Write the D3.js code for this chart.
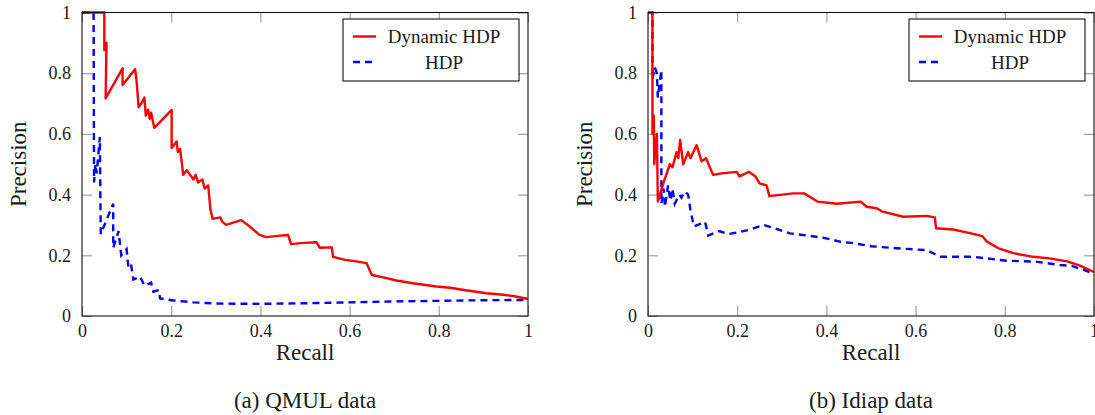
<!DOCTYPE html>
<html>
<head>
<meta charset="utf-8">
<script src="https://cdn.jsdelivr.net/npm/d3@7"></script>
<style>
  body { margin: 0; background: #fff; }
</style>
</head>
<body>
<svg id="chart" width="1095" height="415"></svg>
<script>
// axis ticks
const tickValues = [0, 0.2, 0.4, 0.6, 0.8, 1];
const tickLabels = ["0", "0.2", "0.4", "0.6", "0.8", "1"];
const seriesNames = ["Dynamic HDP", "HDP"];
const panelCaptions = ["(a) QMUL data", "(b) Idiap data"];
const serifFont = '"Liberation Serif"';

// (a) QMUL - Dynamic HDP
const qmulDynRecall = [0.015, 0.05, 0.05, 0.055, 0.053, 0.091, 0.091, 0.119, 0.122, 0.127, 0.135, 0.14, 0.143, 0.148, 0.152, 0.155, 0.162,
  0.201, 0.201, 0.212, 0.215, 0.22, 0.227, 0.235, 0.24, 0.25, 0.255, 0.26, 0.27, 0.275, 0.283, 0.288, 0.293, 0.31, 0.315, 0.323,
  0.357, 0.376, 0.398, 0.413, 0.445, 0.462, 0.469, 0.49, 0.526, 0.533, 0.56, 0.563, 0.59, 0.615, 0.638, 0.65, 0.683, 0.705,
  0.742, 0.795, 0.825, 0.86, 0.907, 0.945, 0.97, 1.0];
const qmulDynPrecision = [1, 1, 0.876, 0.9, 0.717, 0.816, 0.761, 0.813, 0.78, 0.688, 0.705, 0.72, 0.66, 0.68, 0.65, 0.67, 0.62,
  0.679, 0.553, 0.575, 0.54, 0.55, 0.465, 0.48, 0.47, 0.45, 0.465, 0.44, 0.45, 0.42, 0.43, 0.35, 0.32, 0.325, 0.31, 0.30,
  0.316, 0.295, 0.267, 0.26, 0.265, 0.267, 0.237, 0.24, 0.243, 0.225, 0.226, 0.195, 0.185, 0.18, 0.174, 0.135, 0.125, 0.117,
  0.108, 0.097, 0.093, 0.085, 0.075, 0.07, 0.065, 0.056];

// (a) QMUL - HDP
const qmulHdpRecall = [0, 0.026, 0.027, 0.03, 0.033, 0.04, 0.042, 0.07, 0.07, 0.078, 0.082, 0.088, 0.1, 0.104, 0.11, 0.115, 0.13,
  0.14, 0.155, 0.16, 0.172, 0.175, 0.2, 0.25, 0.3, 0.4, 0.5, 0.6, 0.7, 0.8, 0.9, 1.0];
const qmulHdpPrecision = [1, 1, 0.44, 0.5, 0.47, 0.59, 0.27, 0.37, 0.225, 0.26, 0.28, 0.2, 0.22, 0.16, 0.17, 0.12, 0.13,
  0.1, 0.11, 0.08, 0.085, 0.058, 0.052, 0.045, 0.041, 0.04, 0.042, 0.045, 0.048, 0.05, 0.052, 0.053];

// (b) Idiap - Dynamic HDP
const idiapDynRecall = [0.01, 0.01, 0.013, 0.014, 0.02, 0.022, 0.035, 0.049, 0.055, 0.064, 0.068, 0.072, 0.079, 0.09, 0.095, 0.109,
  0.12, 0.13, 0.146, 0.165, 0.199, 0.205, 0.226, 0.241, 0.25, 0.266, 0.272, 0.325, 0.35, 0.38, 0.424, 0.477, 0.49, 0.513,
  0.524, 0.572, 0.625, 0.643, 0.646, 0.684, 0.722, 0.75, 0.76, 0.786, 0.819, 0.864, 0.9, 0.94, 0.97, 1.0];
const idiapDynPrecision = [1, 0.6, 0.66, 0.5, 0.6, 0.377, 0.44, 0.5, 0.49, 0.54, 0.52, 0.58, 0.5, 0.54, 0.52, 0.563,
  0.51, 0.52, 0.465, 0.47, 0.475, 0.46, 0.475, 0.46, 0.437, 0.43, 0.395, 0.404, 0.404, 0.377, 0.37, 0.377, 0.36, 0.355,
  0.345, 0.327, 0.33, 0.325, 0.289, 0.285, 0.273, 0.263, 0.245, 0.223, 0.207, 0.195, 0.19, 0.18, 0.165, 0.145];

// (b) Idiap - HDP
const idiapHdpRecall = [0, 0.01, 0.01, 0.015, 0.02, 0.022, 0.03, 0.03, 0.035, 0.038, 0.045, 0.05, 0.055, 0.06, 0.07, 0.075, 0.082,
  0.09, 0.095, 0.103, 0.12, 0.128, 0.135, 0.16, 0.18, 0.2, 0.23, 0.26, 0.296, 0.318, 0.363, 0.4, 0.43, 0.46, 0.5, 0.558,
  0.625, 0.655, 0.73, 0.804, 0.87, 0.924, 0.95, 1.0];
const idiapHdpPrecision = [1, 1, 0.78, 0.82, 0.8, 0.72, 0.81, 0.37, 0.42, 0.36, 0.43, 0.38, 0.42, 0.37, 0.4, 0.39, 0.41,
  0.4, 0.35, 0.295, 0.305, 0.31, 0.265, 0.28, 0.27, 0.275, 0.285, 0.3, 0.283, 0.272, 0.264, 0.256, 0.245, 0.24, 0.23, 0.223,
  0.217, 0.195, 0.195, 0.182, 0.179, 0.168, 0.165, 0.14];

const svg = d3.select("#chart");
svg.append("rect").attr("width", 1095).attr("height", 415).attr("fill", "#fff");

const plotW = 446, plotH = 303.5, plotTop = 12.5;

function zip(xs, ys) {
  return xs.map((d, i) => [d, ys[i]]);
}

function drawPanel(left, caption, dyn, hdp) {
  const x = d3.scaleLinear().domain([0, 1]).range([left, left + plotW]);
  const y = d3.scaleLinear().domain([0, 1]).range([plotTop + plotH, plotTop]);
  const g = svg.append("g");

  // inward ticks on all four sides
  g.append("g").attr("class", "ax")
    .attr("transform", "translate(0," + (plotTop + plotH) + ")")
    .call(d3.axisBottom(x).tickValues(tickValues).tickFormat((d, i) => tickLabels[i]).tickSize(-10).tickPadding(8));
  g.append("g").attr("class", "ax")
    .attr("transform", "translate(0," + plotTop + ")")
    .call(d3.axisTop(x).tickValues(tickValues).tickFormat("").tickSize(-10));
  g.append("g").attr("class", "ax")
    .attr("transform", "translate(" + left + ",0)")
    .call(d3.axisLeft(y).tickValues(tickValues).tickFormat((d, i) => tickLabels[i]).tickSize(-10).tickPadding(11));
  g.append("g").attr("class", "ax")
    .attr("transform", "translate(" + (left + plotW) + ",0)")
    .call(d3.axisRight(y).tickValues(tickValues).tickFormat("").tickSize(-10));

  g.selectAll(".ax").attr("font-family", null);
  g.selectAll(".ax .domain").remove();
  g.selectAll(".ax .tick line").attr("stroke", "#a0a0a0").attr("stroke-width", 1.2);
  g.selectAll(".ax text")
    .attr("fill", "#1a1a1a")
    .style("font-family", serifFont)
    .style("font-size", "18px");

  const line = d3.line().x(d => x(d[0])).y(d => y(d[1]));

  g.append("path").datum(hdp)
    .attr("d", line)
    .attr("fill", "none")
    .attr("stroke", "#0000ff")
    .attr("stroke-width", 2.4)
    .attr("stroke-dasharray", "7,5");

  g.append("path").datum(dyn)
    .attr("d", line)
    .attr("fill", "none")
    .attr("stroke", "#ff0000")
    .attr("stroke-width", 2.4)
    .attr("stroke-linejoin", "round");

  // frame
  g.append("rect")
    .attr("x", left).attr("y", plotTop)
    .attr("width", plotW).attr("height", plotH)
    .attr("fill", "none").attr("stroke", "#111").attr("stroke-width", 1.1);

  // legend
  const lx = left + plotW - 9 - 176, ly = plotTop + 6.5;
  const leg = g.append("g");
  leg.append("rect").attr("x", lx).attr("y", ly).attr("width", 176).attr("height", 62)
    .attr("fill", "#fff").attr("stroke", "#111").attr("stroke-width", 1.1);
  const styles = [{ c: "#ff0000", dash: null }, { c: "#0000ff", dash: "7,5" }];
  seriesNames.forEach((name, i) => {
    const yy = ly + 17.5 + i * 25.5;
    leg.append("line").attr("x1", lx + 10).attr("x2", lx + 33).attr("y1", yy).attr("y2", yy)
      .attr("stroke", styles[i].c).attr("stroke-width", 2.4)
      .attr("stroke-dasharray", styles[i].dash);
    leg.append("text").attr("x", lx + 101).attr("y", yy).attr("dy", "0.35em")
      .attr("text-anchor", "middle").attr("fill", "#1a1a1a")
      .style("font-family", serifFont).style("font-size", "19px").text(name);
  });

  // axis titles and caption
  const cx = left + plotW / 2;
  g.append("text").attr("x", cx).attr("y", 360).attr("text-anchor", "middle").attr("fill", "#1a1a1a")
    .style("font-family", serifFont).style("font-size", "23px").text("Recall");
  g.append("text")
    .attr("transform", "translate(" + (left - 56) + "," + (plotTop + plotH / 2) + ") rotate(-90)")
    .attr("text-anchor", "middle").attr("fill", "#1a1a1a")
    .style("font-family", serifFont).style("font-size", "23px").text("Precision");
  g.append("text").attr("x", cx).attr("y", 408).attr("text-anchor", "middle").attr("fill", "#1a1a1a")
    .style("font-family", serifFont).style("font-size", "23px").text(caption);
}

drawPanel(82, panelCaptions[0], zip(qmulDynRecall, qmulDynPrecision), zip(qmulHdpRecall, qmulHdpPrecision));
drawPanel(648, panelCaptions[1], zip(idiapDynRecall, idiapDynPrecision), zip(idiapHdpRecall, idiapHdpPrecision));
</script>
</body>
</html>
